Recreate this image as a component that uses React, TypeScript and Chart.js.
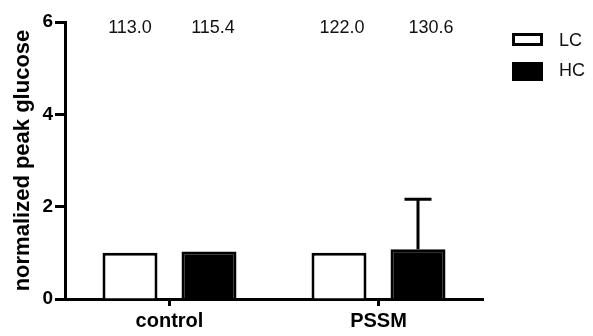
import React, { useEffect, useRef } from "react";
import { Chart, registerables } from "chart.js";

Chart.register(...registerables);

const categories = ["control", "PSSM"];
const seriesNames = ["LC", "HC"];
const lcValues = [1.0, 1.0];
const hcValues = [1.03, 1.08];
const lcErrors = [0, 0];
const hcErrors = [0, 1.08];
const topLabels = [
  ["113.0", "122.0"],
  ["115.4", "130.6"],
];
const yTicks = [0, 2, 4, 6];

const FONT = "'Liberation Sans', Arial, Helvetica, sans-serif";

const overlayPlugin = {
  id: "overlay",
  afterDatasetsDraw(chart: any) {
    const ctx = chart.ctx;
    const yScale = chart.scales.y;
    const errs = [lcErrors, hcErrors];
    const nudges = [
      [0, 3],
      [4, 13],
    ];
    ctx.save();
    chart.data.datasets.forEach((ds: any, di: number) => {
      const meta = chart.getDatasetMeta(di);
      meta.data.forEach((bar: any, i: number) => {
        const e = errs[di][i];
        if (e > 0) {
          const yTop = yScale.getPixelForValue(ds.data[i] + e);
          const yBase = bar.y;
          ctx.strokeStyle = "#000";
          ctx.lineWidth = 3;
          ctx.beginPath();
          ctx.moveTo(bar.x, yBase);
          ctx.lineTo(bar.x, yTop);
          ctx.moveTo(bar.x - 13.5, yTop);
          ctx.lineTo(bar.x + 13.5, yTop);
          ctx.stroke();
        }
        ctx.fillStyle = "#111";
        ctx.font = `18px ${FONT}`;
        ctx.textAlign = "center";
        ctx.textBaseline = "middle";
        ctx.fillText(topLabels[di][i], bar.x + nudges[di][i], 28.5);
      });
    });
    // legend
    const lx = 512;
    const lw = 31;
    ctx.lineWidth = 3;
    ctx.strokeStyle = "#000";
    ctx.fillStyle = "#fff";
    ctx.fillRect(lx + 1.5, 34.5, lw - 3, 10);
    ctx.strokeRect(lx + 1.5, 34.5, lw - 3, 10);
    ctx.fillStyle = "#000";
    ctx.fillRect(lx, 62, lw, 19);
    ctx.font = `18px ${FONT}`;
    ctx.textAlign = "left";
    ctx.textBaseline = "middle";
    ctx.fillStyle = "#111";
    ctx.fillText(seriesNames[0], 559, 41.5);
    ctx.fillText(seriesNames[1], 559, 71);
    ctx.restore();
  },
};

export default function App() {
  const ref = useRef<HTMLCanvasElement | null>(null);
  useEffect(() => {
    if (!ref.current) return;
    const chart = new Chart(ref.current, {
      type: "bar",
      data: {
        labels: categories,
        datasets: [
          {
            label: seriesNames[0],
            data: lcValues,
            backgroundColor: "#fff",
            borderColor: "#000",
            borderWidth: 3,
            categoryPercentage: 0.756,
            barPercentage: 0.696,
          },
          {
            label: seriesNames[1],
            data: hcValues,
            backgroundColor: "#000",
            borderColor: "#000",
            borderWidth: 3,
            categoryPercentage: 0.756,
            barPercentage: 0.696,
          },
        ],
      },
      options: {
        responsive: false,
        animation: false,
        layout: { padding: { top: 22, right: 110, left: 0, bottom: 0 } },
        plugins: { legend: { display: false }, tooltip: { enabled: false } },
        scales: {
          x: {
            grid: {
              display: true,
              drawOnChartArea: false,
              drawTicks: true,
              tickLength: 7,
              tickWidth: 3,
              color: "#000",
              offset: false,
            },
            border: { display: true, width: 3, color: "#000" },
            ticks: {
              color: "#000",
              font: { family: FONT, size: 20, weight: "bold" },
              padding: 3,
            },
            afterFit: (s: any) => {
              s.height = 37;
            },
          },
          y: {
            min: 0,
            max: 6,
            afterBuildTicks: (s: any) => {
              s.ticks = yTicks.map((v) => ({ value: v }));
            },
            grid: {
              display: true,
              drawOnChartArea: false,
              drawTicks: true,
              tickLength: 10,
              tickWidth: 3,
              color: "#000",
            },
            border: { display: true, width: 3, color: "#000" },
            ticks: {
              color: "#000",
              font: { family: FONT, size: 19, weight: "bold" },
              padding: 2,
            },
            title: {
              display: true,
              text: "normalized peak glucose",
              color: "#000",
              font: { family: FONT, size: 22, weight: "bold" },
              padding: { top: 10, bottom: 0 },
            },
            afterFit: (s: any) => {
              s.width = 65;
            },
          },
        },
      },
      plugins: [overlayPlugin],
    });
    return () => chart.destroy();
  }, []);
  return (
    <div style={{ position: "absolute", left: 0, top: 0, width: 593, height: 336, background: "#fff" }}>
      <canvas ref={ref} width={593} height={336} style={{ display: "block" }} />
    </div>
  );
}
